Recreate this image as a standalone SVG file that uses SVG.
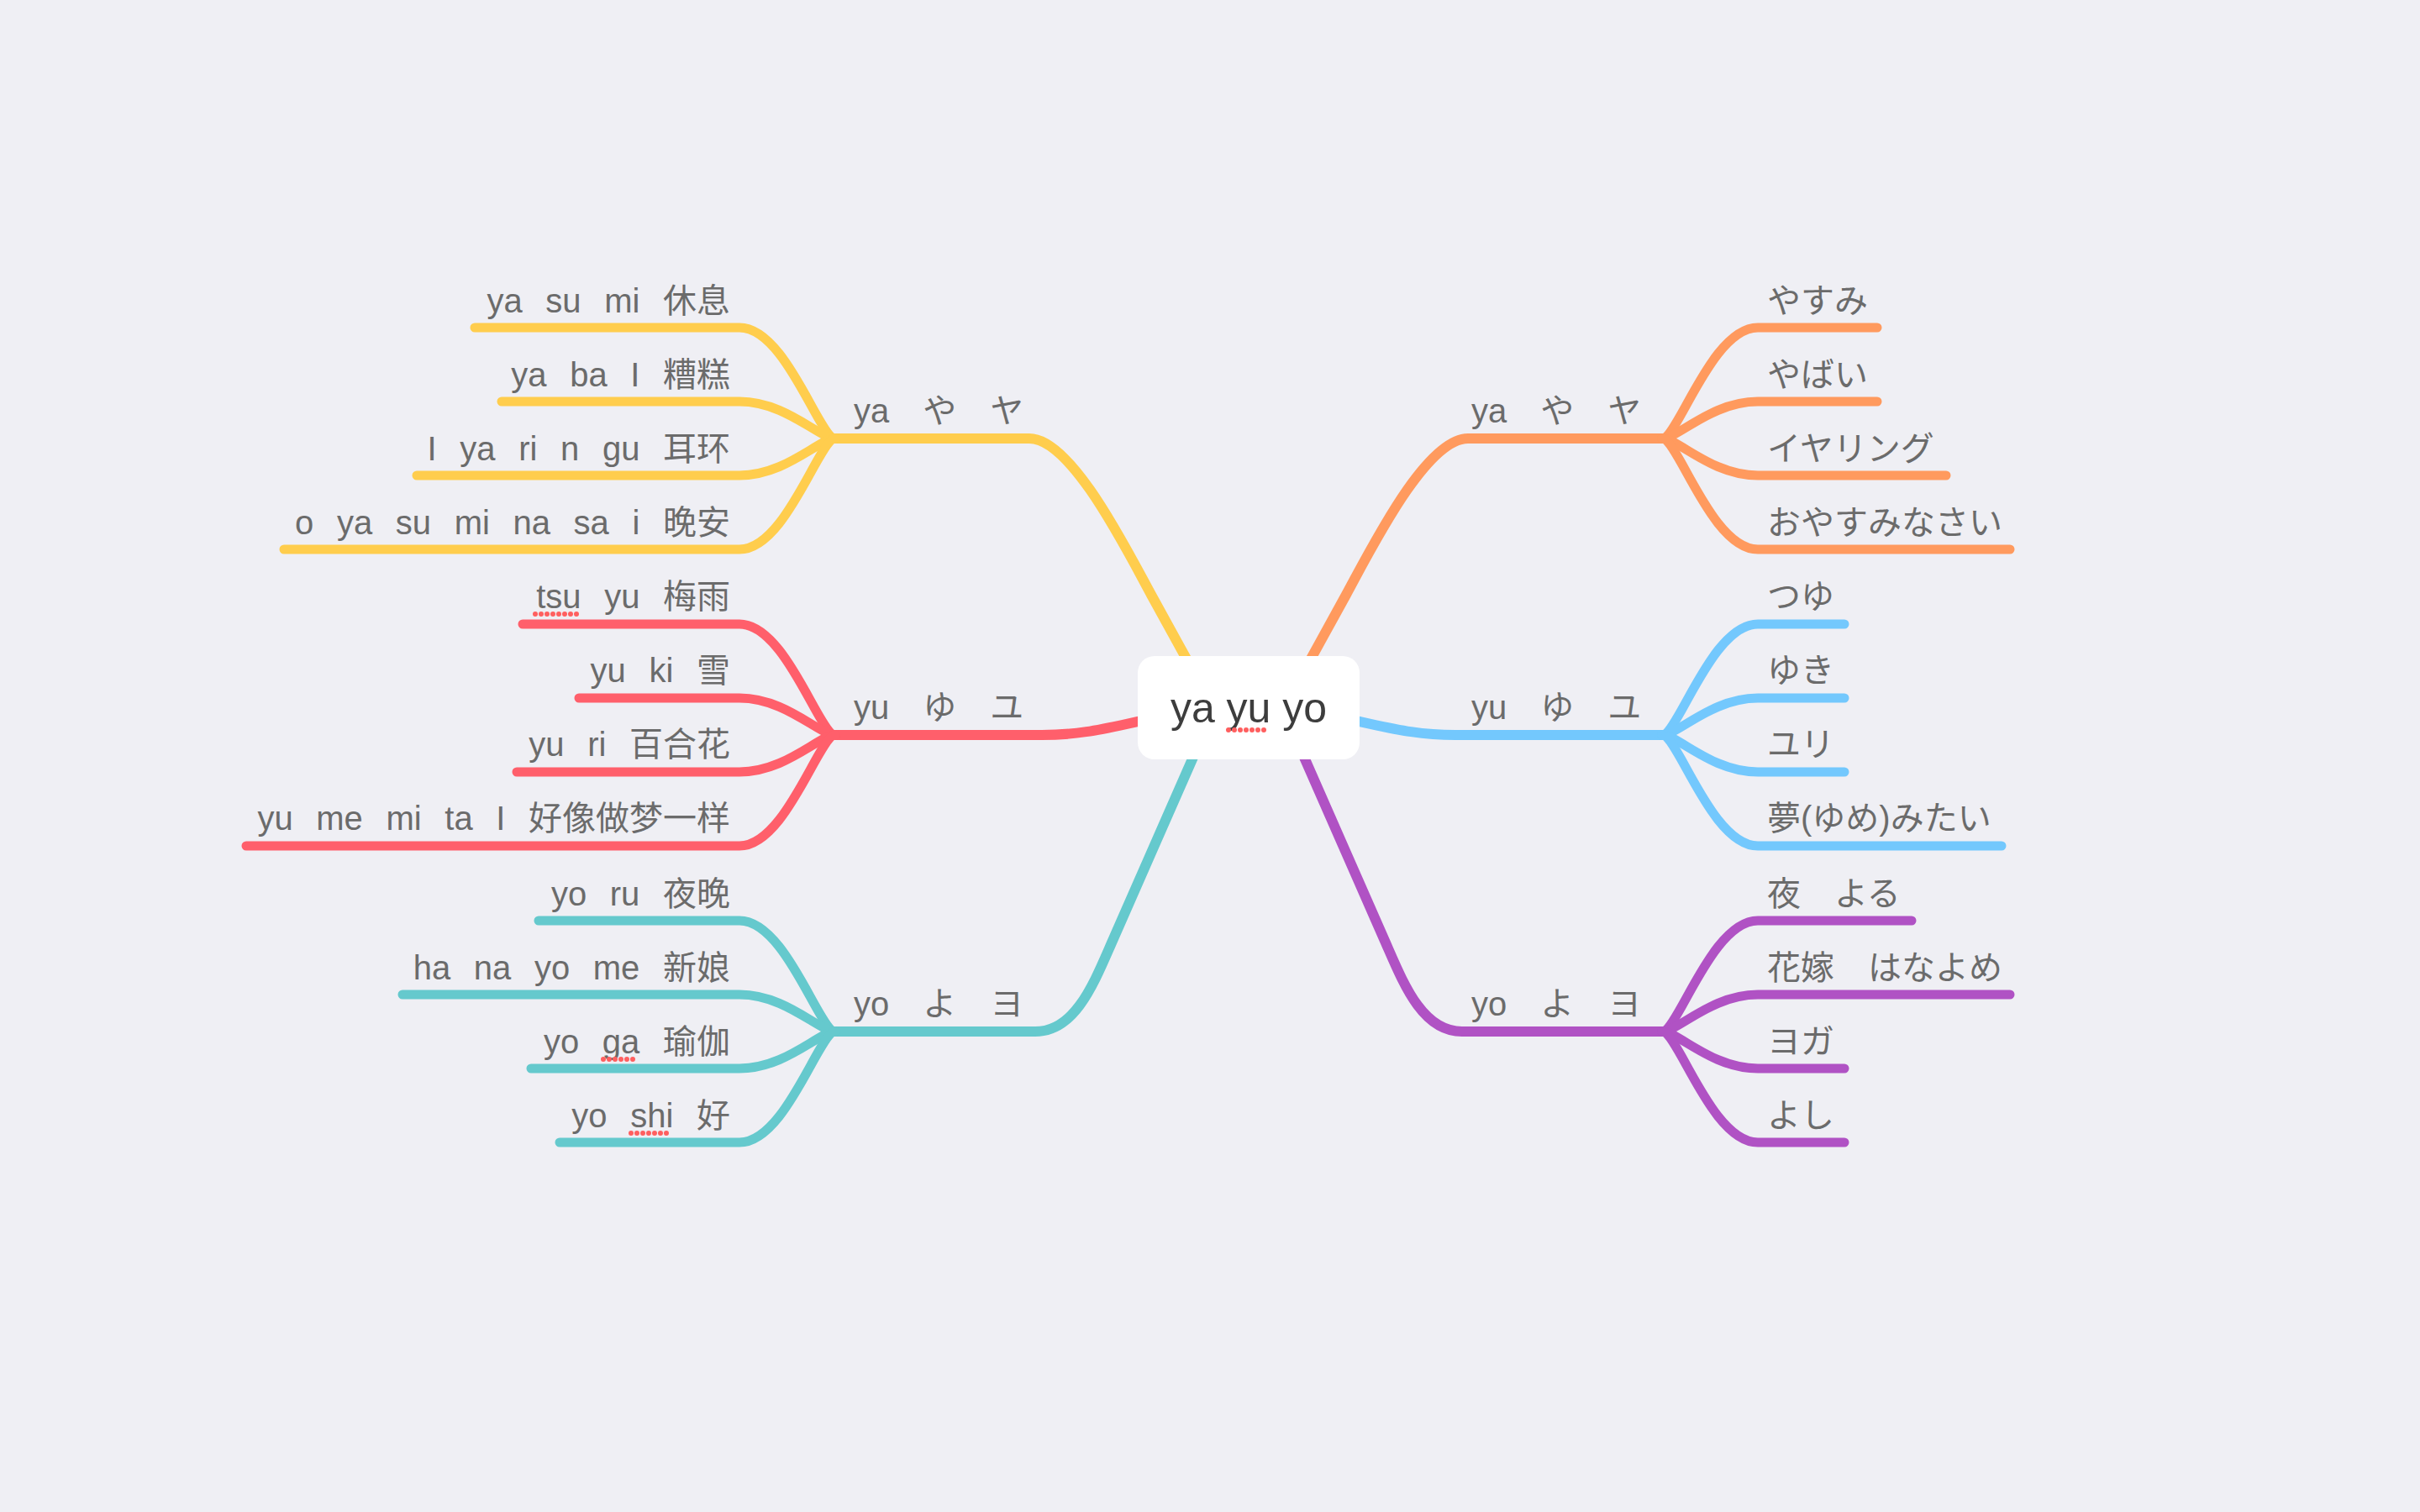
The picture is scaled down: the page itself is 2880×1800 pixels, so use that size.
<svg xmlns="http://www.w3.org/2000/svg" width="2880" height="1800" viewBox="0 0 2880 1800">
<defs>
<style>
.bg{fill:#EFEFF4}
.ln{fill:none;stroke-linecap:round;stroke-linejoin:round}
.main{stroke-width:12}
.sub{stroke-width:11}
.y{stroke:#FFCD4D}.o{stroke:#FF9A5E}.r{stroke:#FF5F6B}.b{stroke:#73C8FD}.t{stroke:#65C9CD}.p{stroke:#B052C4}
.zh{font-family:"Liberation Sans","Noto Sans CJK SC",sans-serif;font-size:40px;fill:#6B6B6B;white-space:pre;word-spacing:2.7px}
.ja{font-family:"Liberation Sans","Noto Sans CJK JP",sans-serif;font-size:40px;fill:#6B6B6B;white-space:pre}
.end{text-anchor:end}
.root{font-family:"Liberation Sans","Noto Sans",sans-serif;font-size:50px;fill:#3D3D3D;text-anchor:middle}
.dots{fill:none;stroke:#FF5F5F;stroke-width:6;stroke-linecap:round;stroke-dasharray:0 7}
</style>
</defs>
<rect class="bg" x="0" y="0" width="2880" height="1800"/>
<g id="connectors">
<path class="ln main y" d="M1425 808 L1370 708 C1340 653 1275 522 1225 522 L994 522"/>
<path class="ln main o" d="M1547 808 L1602 708 C1632 653 1697 522 1747 522 L1978 522"/>
<path class="ln main r" d="M1400 850 C1330 862 1300 875 1240 875 L994 875"/>
<path class="ln main b" d="M1572 850 C1642 862 1672 875 1732 875 L1978 875"/>
<path class="ln main t" d="M1425 890 L1324 1120 C1302 1170 1280 1228 1232 1228 L994 1228"/>
<path class="ln main p" d="M1547 890 L1648 1120 C1670 1170 1692 1228 1740 1228 L1978 1228"/>
<path class="ln sub y" d="M994 522 C975 522 935 390 880 390 L565 390"/>
<path class="ln sub y" d="M994 522 C975 522 935 478 880 478 L597 478"/>
<path class="ln sub y" d="M994 522 C975 522 935 566 880 566 L496 566"/>
<path class="ln sub y" d="M994 522 C975 522 935 654 880 654 L338 654"/>
<path class="ln sub r" d="M994 875 C975 875 935 743 880 743 L622 743"/>
<path class="ln sub r" d="M994 875 C975 875 935 831 880 831 L689 831"/>
<path class="ln sub r" d="M994 875 C975 875 935 919 880 919 L615 919"/>
<path class="ln sub r" d="M994 875 C975 875 935 1007 880 1007 L293 1007"/>
<path class="ln sub t" d="M994 1228 C975 1228 935 1096 880 1096 L641 1096"/>
<path class="ln sub t" d="M994 1228 C975 1228 935 1184 880 1184 L479 1184"/>
<path class="ln sub t" d="M994 1228 C975 1228 935 1272 880 1272 L632 1272"/>
<path class="ln sub t" d="M994 1228 C975 1228 935 1360 880 1360 L666 1360"/>
<path class="ln sub o" d="M1978 522 C1997 522 2037 390 2092 390 L2234 390"/>
<path class="ln sub o" d="M1978 522 C1997 522 2037 478 2092 478 L2234 478"/>
<path class="ln sub o" d="M1978 522 C1997 522 2037 566 2092 566 L2316 566"/>
<path class="ln sub o" d="M1978 522 C1997 522 2037 654 2092 654 L2392 654"/>
<path class="ln sub b" d="M1978 875 C1997 875 2037 743 2092 743 L2195 743"/>
<path class="ln sub b" d="M1978 875 C1997 875 2037 831 2092 831 L2195 831"/>
<path class="ln sub b" d="M1978 875 C1997 875 2037 919 2092 919 L2195 919"/>
<path class="ln sub b" d="M1978 875 C1997 875 2037 1007 2092 1007 L2382 1007"/>
<path class="ln sub p" d="M1978 1228 C1997 1228 2037 1096 2092 1096 L2275 1096"/>
<path class="ln sub p" d="M1978 1228 C1997 1228 2037 1184 2092 1184 L2392 1184"/>
<path class="ln sub p" d="M1978 1228 C1997 1228 2037 1272 2092 1272 L2195 1272"/>
<path class="ln sub p" d="M1978 1228 C1997 1228 2037 1360 2092 1360 L2195 1360"/>
</g>
<g id="root">
<rect x="1354" y="781" width="264" height="123" rx="20" fill="#FFFFFF"/>
<text class="root" x="1486" y="860">ya yu yo</text>
<line class="dots" x1="1462" y1="869" x2="1510" y2="869"/>
</g>
<g id="topic-ya-left"><text class="ja" x="1016" y="503">ya　や　ヤ</text></g>
<g id="topic-yu-left"><text class="ja" x="1016" y="856">yu　ゆ　ユ</text></g>
<g id="topic-yo-left"><text class="ja" x="1016" y="1209">yo　よ　ヨ</text></g>
<g id="topic-ya-right"><text class="ja" x="1751" y="503">ya　や　ヤ</text></g>
<g id="topic-yu-right"><text class="ja" x="1751" y="856">yu　ゆ　ユ</text></g>
<g id="topic-yo-right"><text class="ja" x="1751" y="1209">yo　よ　ヨ</text></g>
<g id="sub-yasumi-zh"><text class="zh end" x="869" y="372" xml:space="preserve">ya  su  mi  休息</text></g>
<g id="sub-yabai-zh"><text class="zh end" x="869" y="460" xml:space="preserve">ya  ba  I  糟糕</text></g>
<g id="sub-iyaringu-zh"><text class="zh end" x="869" y="548" xml:space="preserve">I  ya  ri  n  gu  耳环</text></g>
<g id="sub-oyasumi-zh"><text class="zh end" x="869" y="636" xml:space="preserve">o  ya  su  mi  na  sa  i  晚安</text></g>
<g id="sub-tsuyu-zh"><text class="zh end" x="869" y="724" xml:space="preserve">tsu  yu  梅雨</text><line class="dots" x1="637" y1="731" x2="691" y2="731"/></g>
<g id="sub-yuki-zh"><text class="zh end" x="869" y="812" xml:space="preserve">yu  ki  雪</text></g>
<g id="sub-yuri-zh"><text class="zh end" x="869" y="900" xml:space="preserve">yu  ri  百合花</text></g>
<g id="sub-yumemitai-zh"><text class="zh end" x="869" y="988" xml:space="preserve">yu  me  mi  ta  I  好像做梦一样</text></g>
<g id="sub-yoru-zh"><text class="zh end" x="869" y="1078" xml:space="preserve">yo  ru  夜晚</text></g>
<g id="sub-hanayome-zh"><text class="zh end" x="869" y="1166" xml:space="preserve">ha  na  yo  me  新娘</text></g>
<g id="sub-yoga-zh"><text class="zh end" x="869" y="1254" xml:space="preserve">yo  ga  瑜伽</text><line class="dots" x1="718" y1="1261" x2="760" y2="1261"/></g>
<g id="sub-yoshi-zh"><text class="zh end" x="869" y="1342" xml:space="preserve">yo  shi  好</text><line class="dots" x1="751" y1="1349" x2="800" y2="1349"/></g>
<g id="sub-yasumi-ja"><text class="ja" x="2103" y="372">やすみ</text></g>
<g id="sub-yabai-ja"><text class="ja" x="2103" y="460">やばい</text></g>
<g id="sub-iyaringu-ja"><text class="ja" x="2103" y="548">イヤリング</text></g>
<g id="sub-oyasumi-ja"><text class="ja" x="2103" y="636">おやすみなさい</text></g>
<g id="sub-tsuyu-ja"><text class="ja" x="2103" y="724">つゆ</text></g>
<g id="sub-yuki-ja"><text class="ja" x="2103" y="812">ゆき</text></g>
<g id="sub-yuri-ja"><text class="ja" x="2103" y="900">ユリ</text></g>
<g id="sub-yumemitai-ja"><text class="ja" x="2103" y="988">夢(ゆめ)みたい</text></g>
<g id="sub-yoru-ja"><text class="ja" x="2103" y="1078">夜　よる</text></g>
<g id="sub-hanayome-ja"><text class="ja" x="2103" y="1166">花嫁　はなよめ</text></g>
<g id="sub-yoga-ja"><text class="ja" x="2103" y="1254">ヨガ</text></g>
<g id="sub-yoshi-ja"><text class="ja" x="2103" y="1342">よし</text></g>
</svg>
